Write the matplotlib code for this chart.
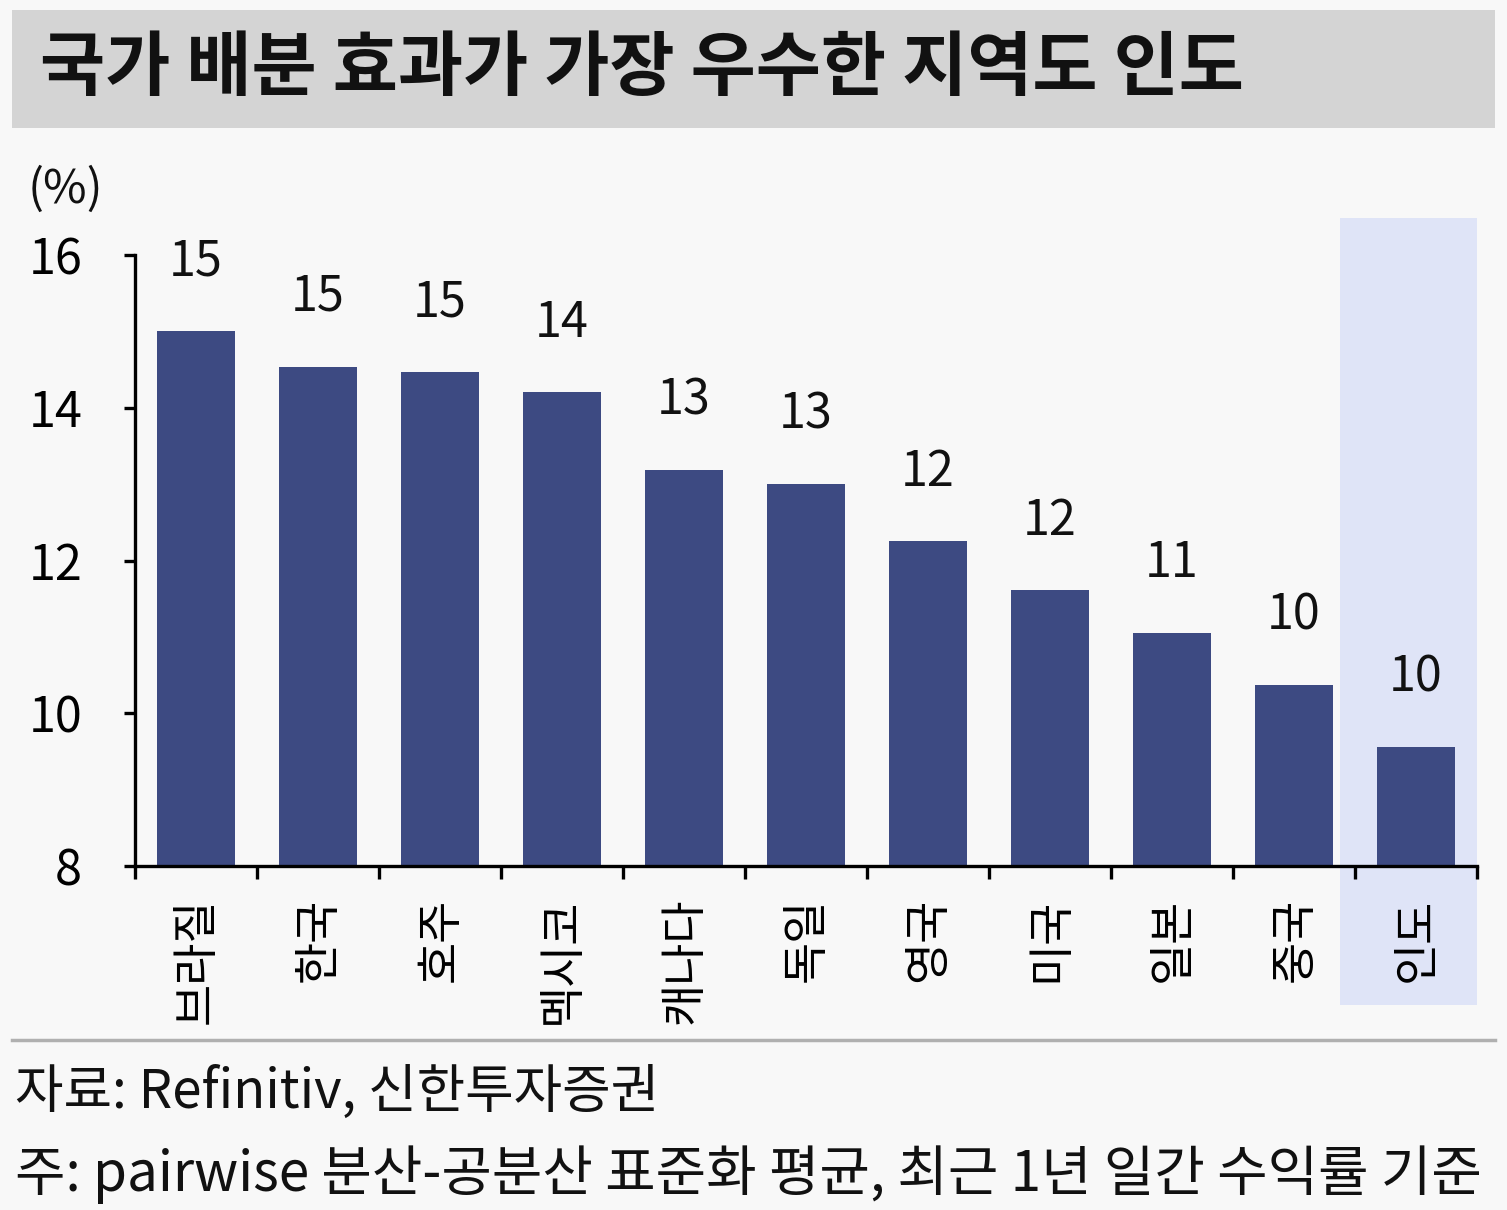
import matplotlib
matplotlib.use("Agg")
import matplotlib.pyplot as plt
import matplotlib.transforms as mtransforms
from matplotlib.patches import Rectangle
import numpy as np

plt.rcParams['font.family'] = ['Noto Sans CJK KR', 'DejaVu Sans']

title = "국가 배분 효과가 가장 우수한 지역도 인도"
categories = ["브라질", "한국", "호주", "멕시코", "캐나다", "독일", "영국", "미국", "일본", "중국", "인도"]
values = [15.0, 14.54, 14.47, 14.2, 13.18, 13.0, 12.25, 11.61, 11.05, 10.37, 9.56]
value_labels = ["15", "15", "15", "14", "13", "13", "12", "12", "11", "10", "10"]
yticks = [8, 10, 12, 14, 16]
source_text = "자료: Refinitiv, 신한투자증권"
note_text = "주: pairwise 분산-공분산 표준화 평균, 최근 1년 일간 수익률 기준"
highlight = "인도"

W, H = 1507, 1210
fig = plt.figure(figsize=(W / 100, H / 100), dpi=100)
fig.patch.set_facecolor('#f8f8f8')

# title band
fig.patches.append(Rectangle((12 / W, 1 - 128 / H), (1495 - 12) / W, (128 - 10) / H,
                             transform=fig.transFigure, facecolor='#d4d4d4', edgecolor='none', zorder=0))
fig.text(40 / W, 1 - 69 / H, title, fontsize=51, fontweight='bold', va='center', ha='left', color='#111111')

ax = fig.add_axes([135 / W, 1 - 866 / H, (1477 - 135) / W, (866 - 255) / H])
ax.set_facecolor('none')
x = np.arange(len(categories))
ax.set_xlim(-0.5, len(categories) - 0.5)
ax.set_ylim(8, 16)

# highlight box behind India
hi = categories.index(highlight)
trans = mtransforms.blended_transform_factory(ax.transData, fig.transFigure)
ax.add_patch(Rectangle((hi - 0.62, 1 - 1005 / H), 1.12, (1005 - 218) / H,
                       transform=trans, facecolor='#dfe4f7', edgecolor='none',
                       zorder=0.5, clip_on=False))

ax.bar(x, np.array(values) - 8, bottom=8, width=0.64, color='#3d4a82', zorder=3)
for xi, v, lab in zip(x, values, value_labels):
    ax.annotate(lab, (xi, v), xytext=(0, 50), textcoords='offset points',
                ha='center', va='center', fontsize=35, color='#111111')

for s in ['top', 'right']:
    ax.spines[s].set_visible(False)
for s in ['left', 'bottom']:
    ax.spines[s].set_linewidth(2.4)
    ax.spines[s].set_color('black')
    ax.spines[s].set_zorder(4)

ax.set_yticks(yticks)
ax.set_yticklabels([str(t) for t in yticks], fontsize=35)
ax.tick_params(axis='y', length=8, width=2.4, pad=30, direction='out')

ax.set_xticks(x)
ax.set_xticklabels(categories, rotation=90, fontsize=33, va='top', ha='center')
ax.tick_params(axis='x', which='major', length=0, pad=23)
ax.set_xticks(np.arange(-0.5, len(categories), 1.0), minor=True)
ax.tick_params(axis='x', which='minor', length=9, width=2.4, direction='out')

fig.text(28 / W, 1 - 190 / H, "(%)", fontsize=34, ha='left', va='center', color='#111111')

# separator
fig.add_artist(plt.Line2D([12 / W, 1495 / W], [1 - 1040 / H, 1 - 1040 / H],
                          transform=fig.transFigure, color='#b0b0b0', linewidth=2.5))
fig.text(15 / W, 1 - 1092 / H, source_text, fontsize=38, ha='left', va='center', color='#111111')
fig.text(15 / W, 1 - 1175 / H, note_text, fontsize=39.5, ha='left', va='center', color='#111111')

fig.savefig('out.png', dpi=100, facecolor=fig.get_facecolor())
